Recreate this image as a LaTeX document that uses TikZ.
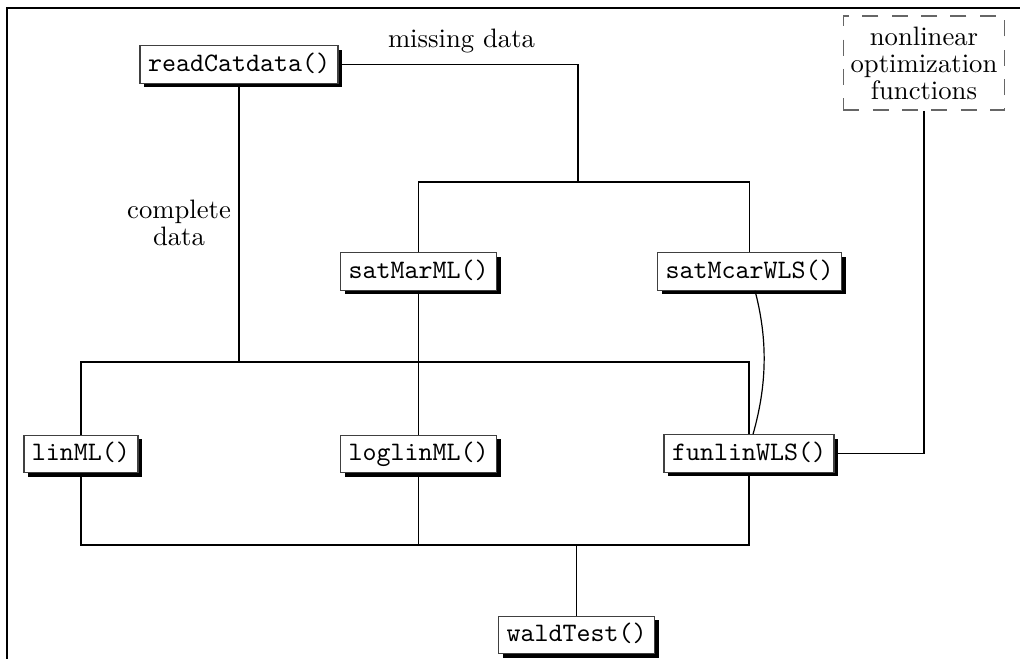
\documentclass[tikz,border=0pt]{standalone}
\usetikzlibrary{shadows,calc}
\begin{document}
\begin{tikzpicture}[x=0.375pt,y=-0.375pt,
  conn/.style={draw=black, line width=0.45pt},
  func/.style={draw=black!75, line width=0.4pt, fill=white, font=\ttfamily,
    inner xsep=3pt, inner ysep=2pt, text height=7.5pt, text depth=2.5pt,
    drop shadow={shadow xshift=1.5pt, shadow yshift=-1.5pt, fill=black, opacity=1}},
  lbl/.style={align=center, inner sep=0pt},
  extbox/.style={draw=black!60, line width=0.6pt, dash pattern=on 6pt off 5pt,
    fill=white, minimum width=60.4pt, minimum height=35.3pt, align=center, inner sep=0pt}]
\useasboundingbox (0,0) rectangle (1020,659);

% frame
\draw[line width=0.6pt] (7,659) -- (7,8) -- (1020,8);

% function nodes
\node[func] (rc)     at (239,64.5)  {readCatdata()};
\node[func] (smar)   at (418.5,271.5) {satMarML()};
\node[func] (smcar)  at (749.5,271.5) {satMcarWLS()};
\node[func] (lin)    at (81,454)    {linML()};
\node[func] (loglin) at (418.5,454) {loglinML()};
\node[func] (fun)    at (749,453.5) {funlinWLS()};
\node[func] (wald)   at (576.5,635) {waldTest()};
\node[extbox] (nonlin) at (924,63)
  {nonlinear\\[-1.9pt]optimization\\[-1.9pt]functions};

% labels
\node[lbl, anchor=base] (miss) at (461.5,48) {missing data};
\node[lbl] (compl) at (179,223) {complete\\[-1.7pt]data};

% junction points
\coordinate (mjoin)  at (578,182);
\coordinate (midbus) at (239,362);
\coordinate (botbus) at (576.5,545);

% missing data branch
\draw[conn] (rc.east) -| (mjoin);
\draw[conn] (smar.north) |- (mjoin) -| (smcar.north);

% complete data branch and middle bus
\draw[conn] (rc.south) -- (midbus);
\draw[conn] (lin.north) |- (midbus) -| (fun.north);
\draw[conn] (smar.south) -- (loglin.north);

% bottom bus to the Wald test
\draw[conn] (lin.south) |- (botbus) -| (fun.south);
\draw[conn] (loglin.south) -- (loglin.south |- botbus);
\draw[conn] (botbus) -- (wald.north);

% WLS estimates and nonlinear optimization
\draw[conn] ($(smcar.south)+(5.5,0)$) .. controls (768,340) and (767,385) .. ($(fun.north)+(4,0)$);
\draw[conn] (nonlin.south) |- (fun.east);
\end{tikzpicture}
\end{document}
